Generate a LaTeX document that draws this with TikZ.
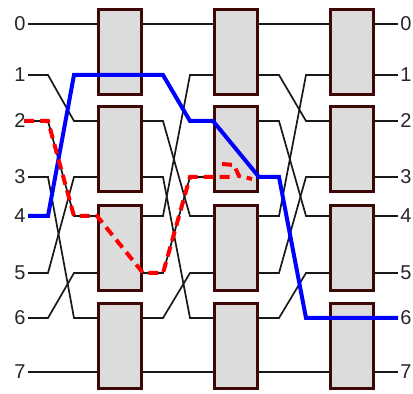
\documentclass[tikz,border=0pt]{standalone}
\usepackage{fontspec}
\setmainfont{Liberation Sans}
\usetikzlibrary{calc}
\definecolor{boxFill}{RGB}{220,220,220}
\definecolor{boxEdge}{RGB}{62,8,6}
\colorlet{penColor}{blue}
\colorlet{penColor2}{red}
\tikzset{
  switchbox/.style={draw=boxEdge, fill=boxFill, line width=1.5pt,
    minimum width=21.5pt, minimum height=42.5pt, inner sep=0pt},
  wire/.style={black!90, line width=0.85pt},
  portnum/.style={inner sep=1pt, text=black!85},
  route/.style={penColor, line width=2pt},
  blocked/.style={penColor2, line width=2pt, dash pattern=on 5pt off 3pt},
}
\begin{document}
\begin{tikzpicture}[x=0.5pt, y=-0.5pt]
\useasboundingbox (0,0) rectangle (413,394);
\def\rows{0/24,1/75,2/121,3/177,4/216,5/273,6/318,7/372}

% port numbers
\foreach \r/\y in \rows {
  \node[portnum, anchor=east] (in\r) at (28,\y) {\r};
  \node[portnum, anchor=west] (out\r) at (398,\y) {\r};
}

% 2x2 switches, three columns of four
\foreach \c/\x in {1/120,2/236,3/352}
  \foreach \b/\y in {0/52,1/149.5,2/248,3/346}
    \node[switchbox] (sw\c\b) at (\x,\y) {};

% switch ports
\foreach \r/\y in \rows {
  \pgfmathtruncatemacro\b{\r/2}
  \foreach \c in {1,2,3} {
    \coordinate (l\c\r) at (sw\c\b.west |- 0,\y);
    \coordinate (r\c\r) at (sw\c\b.east |- 0,\y);
  }
}

% perfect shuffle between the stages
\foreach \i in {0,...,7} {
  \pgfmathtruncatemacro\j{\i==7 ? 7 : mod(2*\i,7)}
  \draw[wire] (in\i.east) -- ++(20,0) -- ($(l1\j)+(-23,0)$) -- (l1\j);
  \draw[wire] (r1\i) -- ++(20,0) -- ($(l2\j)+(-23,0)$) -- (l2\j);
  \draw[wire] (r2\i) -- ++(20,0) -- ($(l3\j)+(-23,0)$) -- (l3\j);
  \draw[wire] (r3\i) -- (out\i.west);
}

% path 4 -> 6
\draw[route] (in4.east) -- ++(20,0) -- ($(l11)+(-23,0)$) -- (l11) -- (r11)
  -- ++(20,0) -- ($(l22)+(-23,0)$) -- (l22) -- (r23)
  -- ++(20,0) -- ($(l36)+(-23,0)$) -- (l36) -- (r36) -- (out6.west);

% path 2 -> ?, blocked in the second stage
\draw[blocked] ($(in2.east)+(-4,0)$) -- ++(24,0) -- ($(l14)+(-23,0)$) -- (l14) -- (r15)
  -- ++(20,0) -- ($(l23)+(-23,0)$) -- (l23) -- ++(18,0);
\draw[blocked] ($(l23)+(9,-13)$) -- ++(12,1) -- ++(5,11) -- ++(13,3);
\end{tikzpicture}
\end{document}
